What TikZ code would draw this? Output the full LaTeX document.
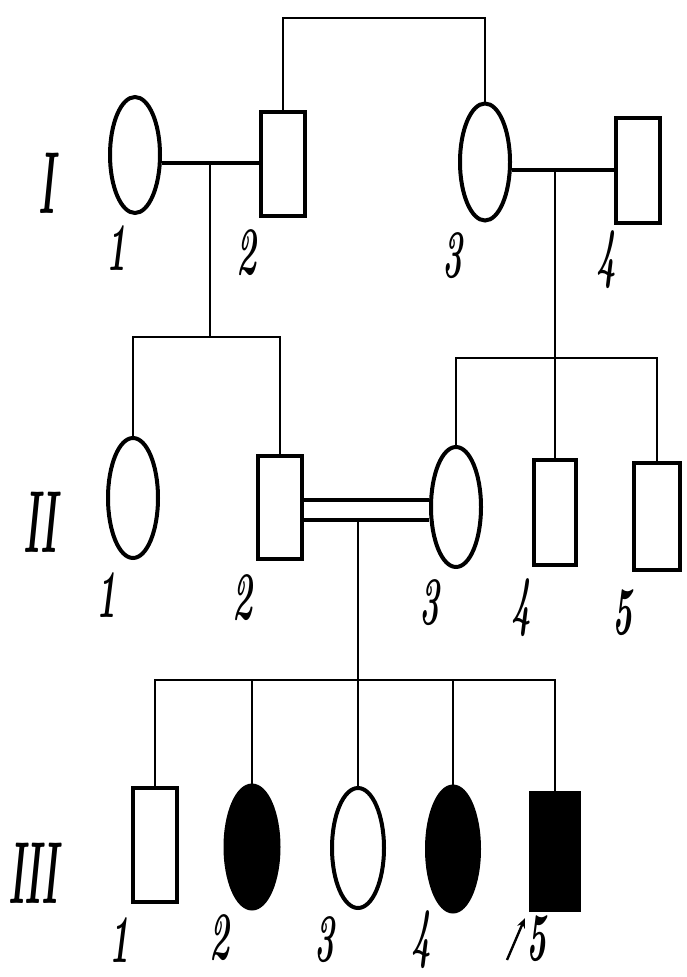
\documentclass[tikz,border=0pt]{standalone}
\usetikzlibrary{shapes.geometric,arrows.meta}
\begin{document}
\begin{tikzpicture}[x=1pt,y=-1pt,
  fem/.style={ellipse,draw,line width=4pt,inner sep=0pt,minimum width=50pt,minimum height=116pt},
  mal/.style={rectangle,draw,line width=4pt,inner sep=0pt,minimum width=44pt,minimum height=104pt},
  aff/.style={fill=black},
  link/.style={line width=2.8pt},
  mar/.style={line width=4pt},
  num/.style={inner sep=0pt},
]
\useasboundingbox (0,0) rectangle (686,977);
\newcommand{\nlab}[1]{\scalebox{0.5}[1]{\fontsize{68}{68}\selectfont\bfseries\itshape #1}}
\newcommand{\glab}[1]{\scalebox{0.4}[1]{\fontsize{88}{88}\selectfont\bfseries\itshape #1}}
% generation I
\node[fem] (i1) at (135,155) {};
\node[mal] (i2) at (283,164) {};
\node[fem,minimum height=117pt] (i3) at (485,162) {};
\node[mal,minimum height=105pt] (i4) at (638,170) {};
% generation II
\node[fem,minimum height=120pt] (ii1) at (133,498) {};
\node[mal,minimum height=103pt] (ii2) at (280,507) {};
\node[fem,minimum height=120pt] (ii3) at (456,507) {};
\node[mal,minimum width=42pt,minimum height=105pt] (ii4) at (555,512) {};
\node[mal,minimum width=46pt,minimum height=107pt] (ii5) at (657,516) {};
% generation III
\node[mal,minimum height=114pt] (iii1) at (155,845) {};
\node[fem,aff,minimum width=53pt,minimum height=123pt] (iii2) at (252,847) {};
\node[fem,minimum width=52pt,minimum height=120pt] (iii3) at (358,848) {};
\node[fem,aff,minimum width=52pt,minimum height=125pt] (iii4) at (453,849) {};
\node[mal,aff,minimum width=48pt,minimum height=117pt] (iii5) at (555,851) {};
% coordinates
\coordinate (tp) at (380,18);
\coordinate (m1) at (210,163);
\coordinate (s1) at (210,337);
\coordinate (m2) at (555,170);
\coordinate (s2) at (555,358);
\coordinate (m3a) at (358,500);
\coordinate (m3b) at (358,520);
\coordinate (s3) at (358,680);
% connectors
\draw[link] (i2.north) |- (tp) -| (i3.north);
\draw[mar] (i1.east |- m1) -- (i2.west |- m1);
\draw[link] (m1) -- (s1);
\draw[link] (ii1.north) |- (s1) -| (ii2.north);
\draw[mar] (i3.east |- m2) -- (i4.west |- m2);
\draw[link] (m2) -- (ii4.north);
\draw[link] (ii3.north) |- (s2) -| (ii5.north);
\draw[mar] (ii2.east |- m3a) -- (ii3.west |- m3a);
\draw[mar] (ii2.east |- m3b) -- (ii3.west |- m3b);
\draw[link] (m3b) -- (iii3.north);
\draw[link] (iii1.north) |- (s3) -| (iii5.north);
\draw[link] (iii2.north |- s3) -- (iii2.north);
\draw[link] (iii4.north |- s3) -- (iii4.north);
% generation labels
\node[num] (g1) at (47,183) {\glab{I}};
\node[num] (g2) at (40,522) {\glab{II}};
\node[num] (g3) at (33,873) {\glab{III}};
% individual numbers
\node[num] (l11) at (117,248) {\nlab{1}};
\node[num] (l12) at (247,253) {\nlab{2}};
\node[num] (l13) at (453,256) {\nlab{3}};
\node[num] (l14) at (607,260) {\nlab{4}};
\node[num] (l21) at (107,595) {\nlab{1}};
\node[num] (l22) at (243,598) {\nlab{2}};
\node[num] (l23) at (430,603) {\nlab{3}};
\node[num] (l24) at (522,608) {\nlab{4}};
\node[num] (l25) at (623,613) {\nlab{5}};
\node[num] (l31) at (120,940) {\nlab{1}};
\node[num] (l32) at (220,938) {\nlab{2}};
\node[num] (l33) at (325,940) {\nlab{3}};
\node[num] (l34) at (422,940) {\nlab{4}};
\node[num] (l35) at (537,939) {\nlab{5}};
% proband arrow
\coordinate (pa) at (507,960);
\coordinate (pb) at (525,918);
\draw[line width=2.4pt,-{Stealth[length=10pt,width=8pt]}] (pa) -- (pb);
\end{tikzpicture}
\end{document}
